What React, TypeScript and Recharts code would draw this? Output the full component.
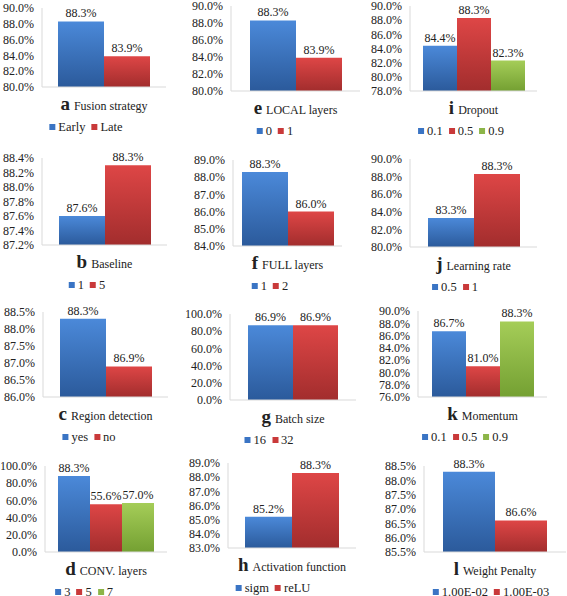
import React from 'react';
import { BarChart, Bar, XAxis, YAxis, LabelList } from 'recharts';

const letters = ['a', 'b', 'c', 'd', 'e', 'f', 'g', 'h', 'i', 'j', 'k', 'l'];
const titles = [
  'Fusion strategy', 'Baseline', 'Region detection', 'CONV. layers',
  'LOCAL layers', 'FULL layers', 'Batch size', 'Activation function',
  'Dropout', 'Learning rate', 'Momentum', 'Weight Penalty',
];
const seriesNames = [
  ['Early', 'Late'], ['1', '5'], ['yes', 'no'], ['3', '5', '7'],
  ['0', '1'], ['1', '2'], ['16', '32'], ['sigm', 'reLU'],
  ['0.1', '0.5', '0.9'], ['0.5', '1'], ['0.1', '0.5', '0.9'], ['1.00E-02', '1.00E-03'],
];
const seriesValues = [
  [88.3, 83.9], [87.6, 88.3], [88.3, 86.9], [88.3, 55.6, 57.0],
  [88.3, 83.9], [88.3, 86.0], [86.9, 86.9], [85.2, 88.3],
  [84.4, 88.3, 82.3], [83.3, 88.3], [86.7, 81.0, 88.3], [88.3, 86.6],
];
const yTicks = [
  [80, 82, 84, 86, 88, 90],
  [87.2, 87.4, 87.6, 87.8, 88.0, 88.2, 88.4],
  [86.0, 86.5, 87.0, 87.5, 88.0, 88.5],
  [0, 20, 40, 60, 80, 100],
  [80, 82, 84, 86, 88, 90],
  [84, 85, 86, 87, 88, 89],
  [0, 20, 40, 60, 80, 100],
  [83, 84, 85, 86, 87, 88, 89],
  [78, 80, 82, 84, 86, 88, 90],
  [80, 82, 84, 86, 88, 90],
  [76, 78, 80, 82, 84, 86, 88, 90],
  [85.5, 86.0, 86.5, 87.0, 87.5, 88.0, 88.5],
];

// layout (pixel geometry of each panel)
const layout = [
  { axisX: 42, right: 166, top: 8, bottom: 87, bar: 46, legendCx: 86 },
  { axisX: 42, right: 167, top: 158, bottom: 245, bar: 46, legendCx: 87 },
  { axisX: 43, right: 168, top: 312, bottom: 397, bar: 46, legendCx: 89 },
  { axisX: 45, right: 167, top: 466, bottom: 552, bar: 32, legendCx: 84 },
  { axisX: 231, right: 360, top: 6, bottom: 91, bar: 46, legendCx: 275 },
  { axisX: 233, right: 342, top: 160, bottom: 246, bar: 46, legendCx: 270 },
  { axisX: 230, right: 356, top: 314, bottom: 400, bar: 45, legendCx: 269 },
  { axisX: 228, right: 356, top: 463, bottom: 548, bar: 47, legendCx: 273 },
  { axisX: 410, right: 537, top: 6, bottom: 91, bar: 34, legendCx: 461 },
  { axisX: 410, right: 537, top: 159, bottom: 247, bar: 46, legendCx: 455 },
  { axisX: 418, right: 547, top: 311, bottom: 397, bar: 34, legendCx: 465 },
  { axisX: 424, right: 566, top: 466, bottom: 552, bar: 52, legendCx: 491 },
];

const FONT = '"Liberation Serif", serif';
const TEXT = '#222';
const AXIS = '#d9d9d9';
const gradStops = [
  ['#4b89d9', '#2b5a9b'],
  ['#de4646', '#a22d2d'],
  ['#a5cd58', '#74a032'],
];
const flatColors = ['#3a74c4', '#c9393a', '#8cb548'];

const YW = 44;
const TOPPAD = 16;
const XH = 10;

function Panel({ idx }: { idx: number }) {
  const L = layout[idx];
  const names = seriesNames[idx];
  const vals = seriesValues[idx];
  const ticks = yTicks[idx];
  const row: Record<string, any> = { name: '' };
  names.forEach((_, i) => { row['s' + i] = vals[i]; });
  const data = [row];
  const left = L.axisX - YW;
  const width = L.right - left;
  const plotH = L.bottom - L.top;
  const height = TOPPAD + plotH + XH;
  const gid = (i: number) => `g${idx}_${i}`;
  return (
    <div style={{ position: 'absolute', left, top: L.top - TOPPAD, width, height, fontFamily: FONT }}>
      <BarChart
        width={width}
        height={height}
        data={data}
        margin={{ top: TOPPAD, right: 0, bottom: 0, left: 0 }}
        barGap={0}
      >
        <defs>
          {names.map((_, i) => (
            <linearGradient key={i} id={gid(i)} x1="0" y1="0" x2="0" y2="1">
              <stop offset="0%" stopColor={gradStops[i][0]} />
              <stop offset="100%" stopColor={gradStops[i][1]} />
            </linearGradient>
          ))}
        </defs>
        <XAxis dataKey="name" tick={false} tickLine={false} axisLine={{ stroke: AXIS }} height={XH} />
        <YAxis
          type="number"
          width={YW}
          domain={[ticks[0], ticks[ticks.length - 1]]}
          ticks={ticks}
          interval={0}
          allowDataOverflow
          tickLine={false}
          axisLine={{ stroke: AXIS }}
          tickFormatter={(v: number) => v.toFixed(1) + '%'}
          tick={{ fontSize: 12, fill: TEXT, fontFamily: 'Liberation Serif' }}
        />
        {names.map((n, i) => (
          <Bar key={n + i} dataKey={'s' + i} name={n} fill={`url(#${gid(i)})`} barSize={L.bar} isAnimationActive={false}>
            <LabelList
              dataKey={'s' + i}
              position="top"
              offset={4}
              formatter={(v: any) => Number(v).toFixed(1) + '%'}
              fontSize={12}
              fontFamily="Liberation Serif"
              fill={TEXT}
            />
          </Bar>
        ))}
      </BarChart>
    </div>
  );
}

function Title({ idx }: { idx: number }) {
  const L = layout[idx];
  const cx = (L.axisX + L.right) / 2;
  return (
    <div
      style={{
        position: 'absolute',
        left: cx,
        top: L.bottom + 18,
        transform: 'translate(-50%, -50%)',
        whiteSpace: 'nowrap',
        fontFamily: FONT,
        color: TEXT,
        lineHeight: '20px',
      }}
    >
      <span style={{ fontWeight: 'bold', fontSize: 19 }}>{letters[idx]}</span>
      <span style={{ fontSize: 12, marginLeft: 4 }}>{titles[idx]}</span>
    </div>
  );
}

function LegendBox({ idx }: { idx: number }) {
  const L = layout[idx];
  const names = seriesNames[idx];
  return (
    <div
      style={{
        position: 'absolute',
        left: L.legendCx,
        top: L.bottom + 39.5,
        transform: 'translate(-50%, -50%)',
        whiteSpace: 'nowrap',
        fontFamily: FONT,
        color: TEXT,
        fontSize: 12.5,
        lineHeight: '12px',
        display: 'flex',
        alignItems: 'center',
      }}
    >
      {names.map((n, i) => (
        <span key={i} style={{ display: 'inline-flex', alignItems: 'center', marginLeft: i === 0 ? 0 : 6 }}>
          <span style={{ display: 'inline-block', width: 6, height: 6, background: flatColors[i], marginRight: 3 }} />
          <span>{n}</span>
        </span>
      ))}
    </div>
  );
}

export default function App() {
  return (
    <div style={{ position: 'absolute', left: 0, top: 0, width: 567, height: 596, background: '#fff', overflow: 'hidden', fontFamily: FONT }}>
      {letters.map((_, i) => (
        <React.Fragment key={i}>
          <Panel idx={i} />
          <Title idx={i} />
          <LegendBox idx={i} />
        </React.Fragment>
      ))}
    </div>
  );
}
